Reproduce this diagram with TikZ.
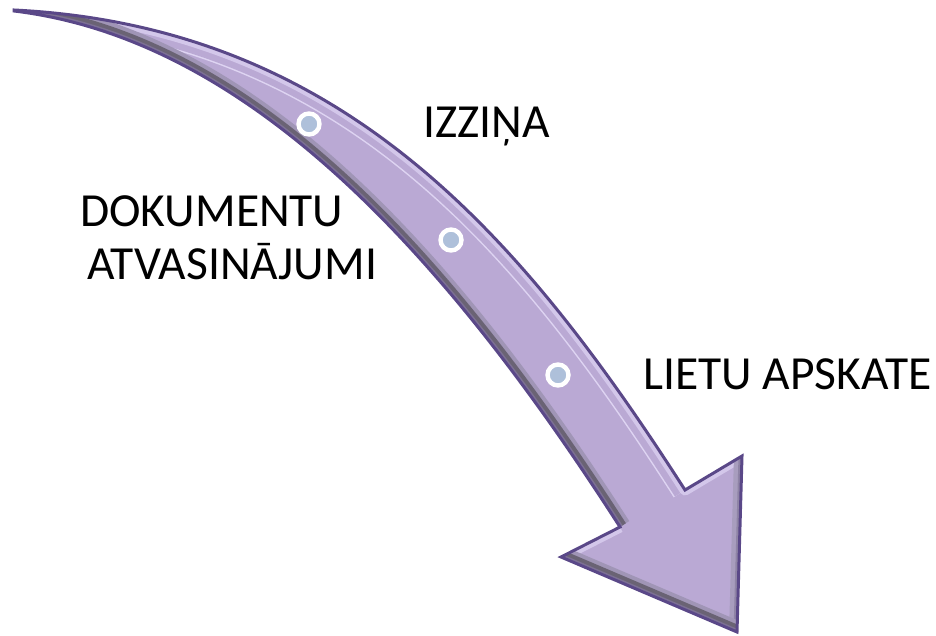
\documentclass[tikz,border=0pt]{standalone}
\usepackage{fontspec}
\setmainfont{Carlito}
\definecolor{arrowfill}{HTML}{BAA9D4}
\definecolor{arrowline}{HTML}{5A4888}
\definecolor{bevdark}{HTML}{6A6374}
\definecolor{bevdarkedge}{HTML}{7C7094}
\definecolor{bevgray}{HTML}{A095B6}
\definecolor{bevmid}{HTML}{A89DBE}
\definecolor{bevmiddark}{HTML}{8F84A6}
\definecolor{bevlight}{HTML}{D3C7EA}
\definecolor{hilite}{HTML}{DED4F2}
\definecolor{dotblue}{HTML}{AEC0DA}
\begin{document}
\begin{tikzpicture}[x=1pt,y=-1pt,
  lbl/.style={font=\fontsize{47.5}{57}\selectfont, anchor=base west, inner sep=0pt, text=black},
  dot/.style={circle, draw=white, line width=4.4pt, fill=dotblue, minimum size=21pt, inner sep=0pt}]
\useasboundingbox (0,0) rectangle (936,636);
\coordinate (tail) at (14,10);
\coordinate (tailb) at (14,11);
\coordinate (rs) at (685,490);
\coordinate (rc) at (742,456);
\coordinate (tip) at (737,632);
\coordinate (lc) at (561,557);
\coordinate (ls) at (620,527);
% arrow outline path
\path[save path=\arrowpath]
  (tail) .. controls (344,26.5) and (523,238) .. (rs)
  -- (rc) -- (tip) -- (lc) -- (ls)
  .. controls (463,283) and (264,41) .. (tailb)
  -- cycle;
\fill[arrowfill, use path=\arrowpath];
\begin{scope}
  \clip[use path=\arrowpath];
  % thin highlight line inside the upper edge
  \draw[hilite, line width=27pt] (tail) .. controls (344,26.5) and (523,238) .. (rs);
  \draw[arrowfill, line width=24pt] (tail) .. controls (344,26.5) and (523,238) .. (rs);
  % upper (light) bevel
  \draw[bevlight, line width=11pt, line join=round]
    (tail) .. controls (344,26.5) and (523,238) .. (rs) -- (rc);
  \draw[bevlight, line width=11pt] (lc) -- (ls);
  % right side of head
  \draw[bevmid, line width=16pt] (rc) -- (tip);
  \draw[bevmiddark, line width=7pt] (rc) -- (tip);
  % bottom of head
  \draw[bevgray, line width=22pt] (tip) -- (lc);
  \draw[bevdark, line width=14pt] (tip) -- (lc);
  \draw[bevdarkedge, line width=6pt] (tip) -- (lc);
  % lower (dark) bevel of shaft
  \draw[bevgray, line width=22pt]
    (ls) .. controls (463,283) and (264,41) .. (tailb);
  \draw[bevdark, line width=14pt]
    (ls) .. controls (463,283) and (264,41) .. (tailb);
  \draw[bevdarkedge, line width=6pt]
    (ls) .. controls (463,283) and (264,41) .. (tailb);
\end{scope}
\draw[arrowline, line width=3pt, line join=miter, use path=\arrowpath];
% dots
\node[dot] (d1) at (309,124) {};
\node[dot] (d2) at (451,240) {};
\node[dot] (d3) at (558,375) {};
% labels
\node[lbl] (izz) at (423,138) {IZZIŅA};
\node[lbl] (dok) at (80,227) {DOKUMENTU};
\node[lbl] (atv) at (87,279) {ATVASINĀJUMI};
\node[lbl] (lie) at (643,389) {LIETU APSKATE};
\end{tikzpicture}
\end{document}
